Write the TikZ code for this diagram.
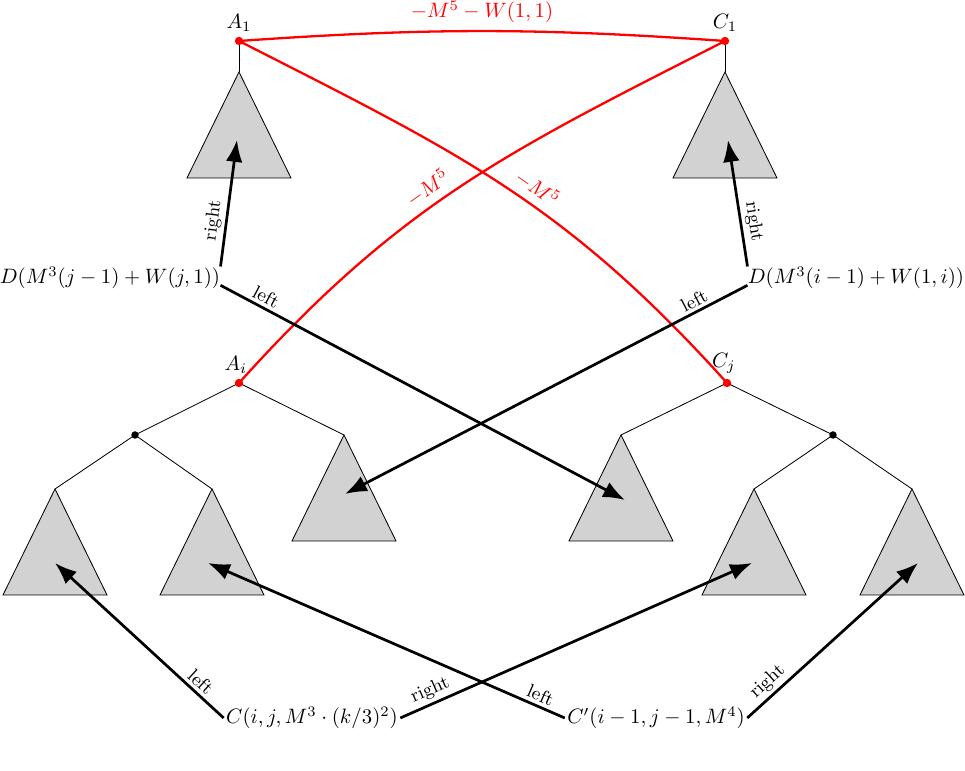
\documentclass[tikz,border=0pt]{standalone}
\usepackage{amssymb}
\usepackage{amsmath}
\usetikzlibrary{arrows.meta,calc}

\tikzset{
  subtree/.style={draw=black, fill=gray!35, line width=0.4pt},
  edge/.style={line width=0.4pt},
  ptr/.style={line width=1.3pt, -{Latex[length=10.5pt,width=8pt]}},
  cost/.style={red, line width=1.1pt},
  lbl/.style={font=\small, inner sep=1.5pt},
}
\newcommand{\subtri}[1]{\draw[subtree] (#1) -- ++(-52,-106) -- ++(104,0) -- cycle;}

\begin{document}
\begin{tikzpicture}[x=0.48pt,y=0.48pt]
    \useasboundingbox (0,0) rectangle (965,771);
    % roots of the trees
    \coordinate (A1) at (239,730);
    \coordinate (C1) at (725,730);
    \coordinate (Ai) at (239,388);
    \coordinate (Cj) at (727,388);
    \coordinate (L) at (135,336);
    \coordinate (R) at (833,336);
    % tops of the subtrees
    \coordinate (TA) at (239,699);
    \coordinate (TC) at (725,699);
    \coordinate (T1) at (55,282);
    \coordinate (T2) at (212,282);
    \coordinate (T3) at (344,336);
    \coordinate (T4) at (621,336);
    \coordinate (T5) at (754,282);
    \coordinate (T6) at (912,282);
    % where the pointers end
    \coordinate (tA) at (237,631);
    \coordinate (tC) at (728,631);
    \coordinate (t1) at (55,208);
    \coordinate (t2) at (208,208);
    \coordinate (t3) at (345,277);
    \coordinate (t4) at (625,271);
    \coordinate (t5) at (752,208);
    \coordinate (t6) at (918,208);

    \draw[edge] (A1) -- (TA);
    \draw[edge] (C1) -- (TC);
    \draw[edge] (Ai) -- (L) -- (T1);
    \draw[edge] (L) -- (T2);
    \draw[edge] (Ai) -- (T3);
    \draw[edge] (Cj) -- (T4);
    \draw[edge] (Cj) -- (R) -- (T5);
    \draw[edge] (R) -- (T6);
    \foreach \t in {TA,TC,T1,T2,T3,T4,T5,T6} {\subtri{\t}}

    % red edges
    \draw[cost] (A1) to[bend left=4] node[above] (w11) {$-M^5-W(1,1)$} (C1);
    \draw[cost] (A1) to[out=-27,in=132,looseness=1.05] node[pos=0.555,sloped,above] (m5r) {$-M^5$} (Cj);
    \draw[cost] (Ai) to[out=48,in=207,looseness=1.05] node[pos=0.445,sloped,above] (m5l) {$-M^5$} (C1);
    \foreach \p in {A1,C1,Ai,Cj} {\fill[red] (\p) circle (2pt);}
    \foreach \p in {L,R} {\fill (\p) circle (1.8pt);}

    \node[above=1pt] (lA1) at (A1) {$A_1$};
    \node[above=1pt] (lC1) at (C1) {$C_1$};
    \node[above=1pt, xshift=-1.5pt] (lAi) at (Ai) {$A_i$};
    \node[above=1pt, xshift=-1.5pt] (lCj) at (Cj) {$C_j$};

    \node[inner sep=0pt] (Dl) at (110,493) {$D(M^3(j-1)+W(j,1))$};
    \node[inner sep=0pt] (Dr) at (856,493) {$D(M^3(i-1)+W(1,i))$};
    \node[inner sep=1pt] (Cb) at (312,53) {$C(i,j,M^3\cdot(k/3)^2)$};
    \node[inner sep=1pt] (Cp) at (656,53) {$C'(i-1,j-1,M^4)$};

    \draw[ptr] (Dl.north east) -- node[pos=0.35,sloped,above,lbl] (r1) {right} (tA);
    \draw[ptr] ([yshift=2pt]Dl.south east) -- node[pos=0.1,sloped,above,lbl] (l1) {left} (t4);
    \draw[ptr] (Dr.north west) -- node[pos=0.34,sloped,above,lbl] (r2) {right} (tC);
    \draw[ptr] ([yshift=2pt]Dr.south west) -- node[pos=0.12,sloped,above,lbl] (l2) {left} (t3);
    \draw[ptr] (Cb.west) -- node[pos=0.18,sloped,above,lbl] (l3) {left} (t1);
    \draw[ptr] (Cb.east) -- node[pos=0.1,sloped,above,lbl] (r3) {right} (t5);
    \draw[ptr] (Cp.west) -- node[pos=0.08,sloped,above,lbl] (l4) {left} (t2);
    \draw[ptr] (Cp.east) -- node[pos=0.17,sloped,above,lbl] (r4) {right} (t6);
\end{tikzpicture}
\end{document}
